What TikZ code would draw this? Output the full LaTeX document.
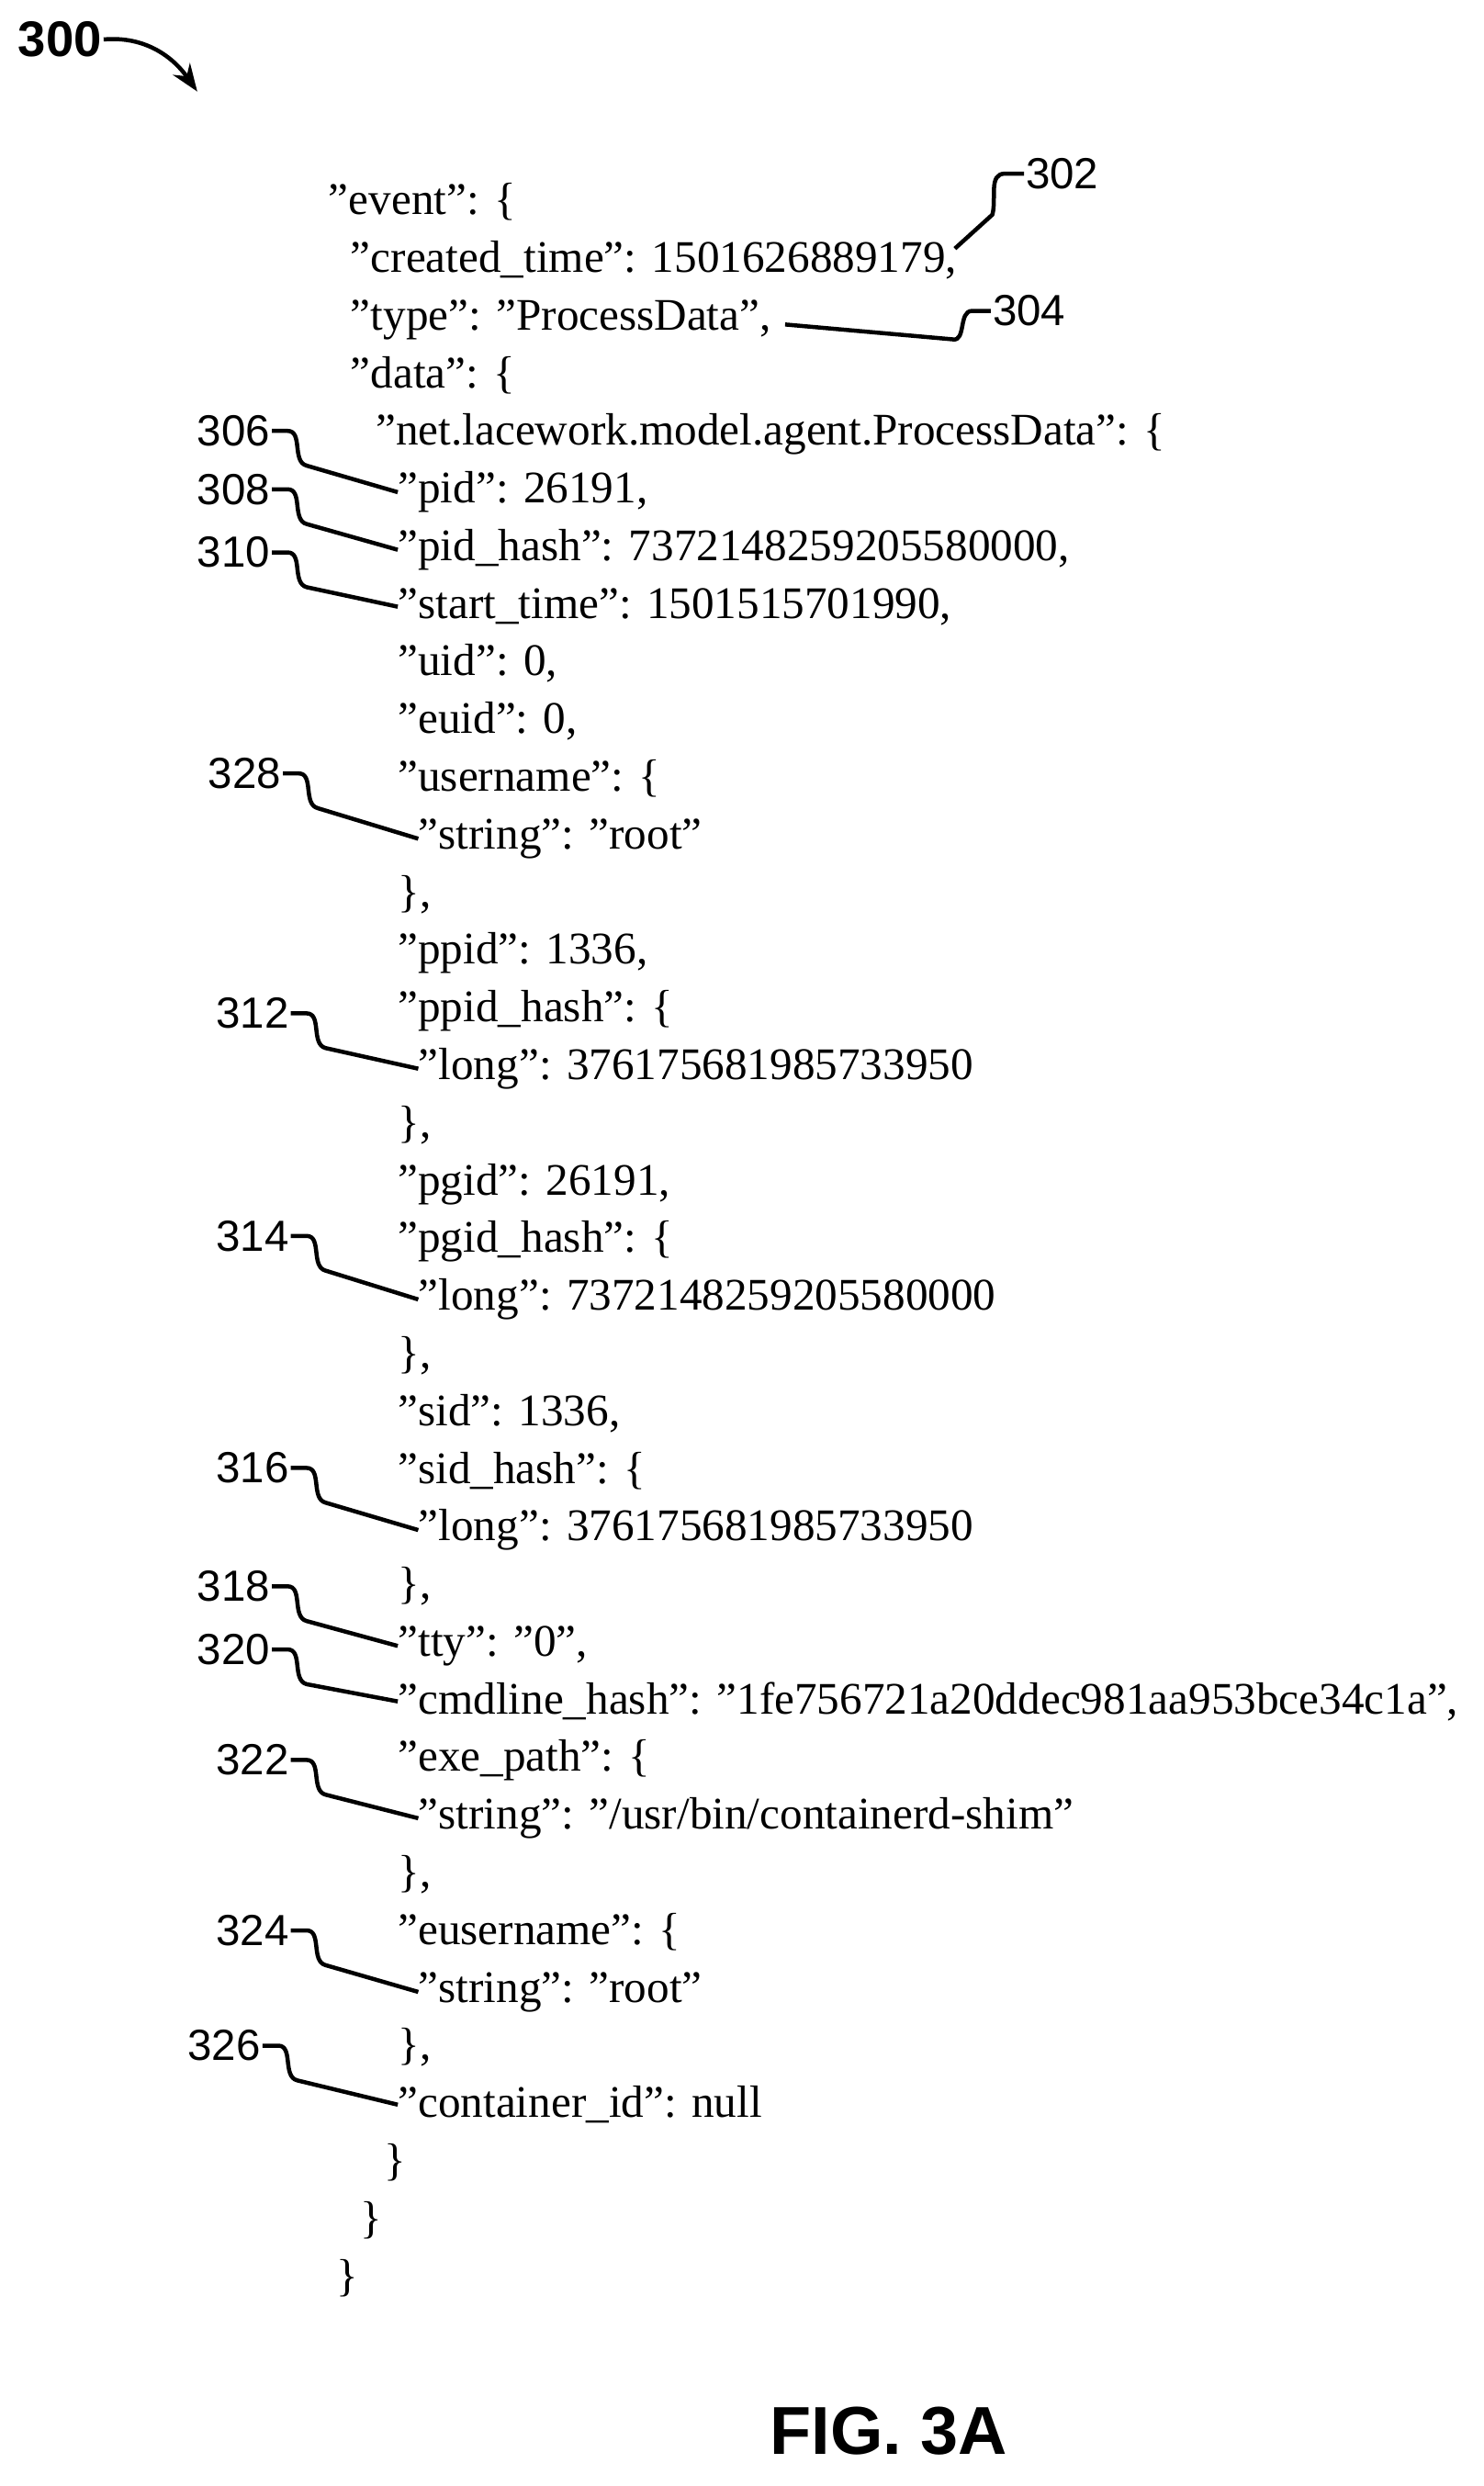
\documentclass[tikz,border=0pt]{standalone}
\usepackage{fontspec}
\setmainfont{Liberation Serif}
\newfontfamily\labfont{Liberation Sans}
\usetikzlibrary{positioning,arrows.meta}
\tikzset{>=Stealth}
\newcommand{\q}{\symbol{34}}
\tikzset{
  code/.style={anchor=base west,inner sep=0pt,font=\fontsize{28}{32}\selectfont},
  ref/.style={inner sep=1pt,font=\labfont\fontsize{27}{30}\selectfont},
  leader/.style={line width=0.9mm,line join=round}
}

\begin{document}
\begin{tikzpicture}[x=0.3437mm,y=-0.3437mm]
\useasboundingbox (0,0) rectangle (940,1575);
% json listing
\node[code] (event) at (208,136) {\q event\q: \{};
\node[code] (ctime) at (222,172.5) {\q created\_time\q: 1501626889179,};
\node[code] (type) at (222,209.1) {\q type\q: \q ProcessData\q,};
\node[code] (data) at (222,245.6) {\q data\q: \{};
\node[code] (net) at (238,282.1) {\q net.lacework.model.agent.ProcessData\q: \{};
\node[code] (pid) at (252,318.7) {\q pid\q: 26191,};
\node[code] (pidh) at (252,355.2) {\q pid\_hash\q: 7372148259205580000,};
\node[code] (stime) at (252,391.7) {\q start\_time\q: 1501515701990,};
\node[code] (uid) at (252,428.2) {\q uid\q: 0,};
\node[code] (euid) at (252,464.8) {\q euid\q: 0,};
\node[code] (uname) at (252,501.3) {\q username\q: \{};
\node[code] (unames) at (265,537.8) {\q string\q: \q root\q};
\node[code] (c1) at (252,574.4) {\},};
\node[code] (ppid) at (252,610.9) {\q ppid\q: 1336,};
\node[code] (ppidh) at (252,647.4) {\q ppid\_hash\q: \{};
\node[code] (ppidl) at (265,683.9) {\q long\q: 376175681985733950};
\node[code] (c2) at (252,720.5) {\},};
\node[code] (pgid) at (252,757) {\q pgid\q: 26191,};
\node[code] (pgidh) at (252,793.5) {\q pgid\_hash\q: \{};
\node[code] (pgidl) at (265,830.1) {\q long\q: 7372148259205580000};
\node[code] (c3) at (252,866.6) {\},};
\node[code] (sid) at (252,903.1) {\q sid\q: 1336,};
\node[code] (sidh) at (252,939.7) {\q sid\_hash\q: \{};
\node[code] (sidl) at (265,976.2) {\q long\q: 376175681985733950};
\node[code] (c4) at (252,1012.7) {\},};
\node[code] (tty) at (252,1049.2) {\q tty\q: \q 0\q,};
\node[code] (cmd) at (252,1085.8) {\q cmdline\_hash\q: \q 1fe756721a20ddec981aa953bce34c1a\q,};
\node[code] (exe) at (252,1122.3) {\q exe\_path\q: \{};
\node[code] (exes) at (265,1158.8) {\q string\q: \q /usr/bin/containerd-shim\q};
\node[code] (c5) at (252,1195.4) {\},};
\node[code] (euname) at (252,1231.9) {\q eusername\q: \{};
\node[code] (eunames) at (265,1268.4) {\q string\q: \q root\q};
\node[code] (c6) at (252,1305) {\},};
\node[code] (cont) at (252,1341.5) {\q container\_id\q: null};
\node[code] (c7) at (243,1378) {\}};
\node[code] (c8) at (228,1414.5) {\}};
\node[code] (c9) at (213,1451.1) {\}};
% reference numerals
\node[ref,font=\labfont\bfseries\fontsize{31}{34}\selectfont] (n300) at (38,25) {300};
\node[ref] (n302) at (673,110) {302};
\node[ref] (n304) at (652,197) {304};
\node[ref] (n306) at (148,273) {306};
\node[ref] (n308) at (148,310) {308};
\node[ref] (n310) at (148,350) {310};
\node[ref] (n328) at (155,490) {328};
\node[ref] (n312) at (160,642) {312};
\node[ref] (n314) at (160,783) {314};
\node[ref] (n316) at (160,930) {316};
\node[ref] (n318) at (148,1005) {318};
\node[ref] (n320) at (148,1045) {320};
\node[ref] (n322) at (160,1115) {322};
\node[ref] (n324) at (160,1223) {324};
\node[ref] (n326) at (142,1296) {326};
\node[ref,font=\labfont\bfseries\fontsize{42}{46}\selectfont] (fig) at (563,1540) {FIG. 3A};
% leaders
\draw[line width=0.9mm,->,>={Stealth[length=6mm,width=4.5mm]}] (n300.east) to[out=5,in=125] (125,58);
\coordinate (t302) at ([xshift=-0.5mm,yshift=2.5mm]ctime.east);
\draw[leader] (n302.west) -- ++(-12,0) to[out=180,in=75] ++(-8,26) -- (t302);
\coordinate (t304) at ([xshift=3mm,yshift=-1mm]type.east);
\draw[leader] (n304.west) -- ++(-12,0) to[out=180,in=-10] ++(-12,18) -- (t304);
\foreach \a/\b in {n306/pid,n308/pidh,n310/stime,n328/unames,n312/ppidl,n314/pgidl,n316/sidl,n318/tty,n320/cmd,n322/exes,n324/eunames,n326/cont}
  \draw[leader] (\a.east) -- ++(10,0) to[out=0,in=165] ++(12,22) -- (\b.west);
\end{tikzpicture}
\end{document}
